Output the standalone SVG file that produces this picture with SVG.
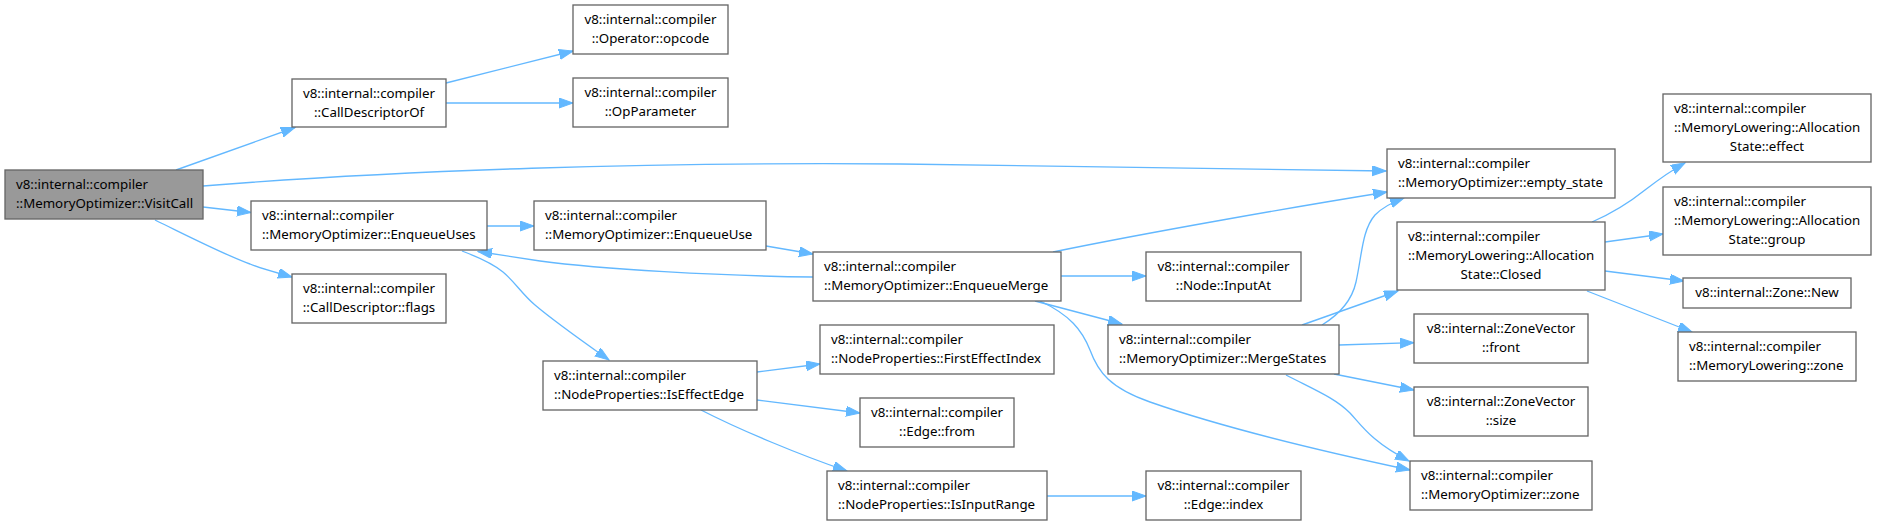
<svg xmlns="http://www.w3.org/2000/svg" width="1877" height="526" viewBox="0 0 1877 526">
<style>
.n rect{fill:#ffffff;stroke:#666666;stroke-width:1.33}
.n.root rect{fill:#999999}
.n text{font-family:"Noto Sans","Open Sans","DejaVu Sans",sans-serif;font-size:13.3px;fill:#000000}
.c{text-anchor:middle}
.e path{fill:none;stroke:#63b8ff;stroke-width:1.33;marker-end:url(#ah)}
</style>
<defs>
<marker id="ah" markerUnits="userSpaceOnUse" markerWidth="15" markerHeight="11" refX="14" refY="5" orient="auto">
<path d="M0,0 L14,5 L0,10 Z" fill="#63b8ff" stroke="#63b8ff" stroke-width="1"/>
</marker>
</defs>
<rect width="1877" height="526" fill="#ffffff"/>
<g id="edges" class="e">
<path d="M176,170 L295,127.5"/>
<path d="M203,186 C400,170 650,162 900,164 C1100,165.5 1300,169 1386,171"/>
<path d="M203,207 L251,212.5"/>
<path d="M155,220 C190,237 225,255 250,264 C262,269 278,273 292,277"/>
<path d="M446,83 L573,51"/>
<path d="M446,103 L573,103"/>
<path d="M487,226 L534,226"/>
<path d="M766,246 L813,254"/>
<path d="M813,277 C720,276 600,269 540,261 C515,257 495,254 478,251.5"/>
<path d="M462,251 C478,257 492,263 503,272 C515,282 522,294 535,305 C555,322 585,343 609,360"/>
<path d="M1053,252 C1150,232 1300,206 1387,192"/>
<path d="M1061,276 L1146,276"/>
<path d="M1035,301 L1122,324"/>
<path d="M1040,301 C1070,315 1082,330 1090,350 C1098,372 1110,388 1150,402 C1230,430 1330,453 1410,470"/>
<path d="M757,372 L820,364"/>
<path d="M757,400 L860,413"/>
<path d="M701,410 C740,430 800,455 847,471"/>
<path d="M1047,496 L1146,496"/>
<path d="M1322,325 C1340,314 1352,300 1356,282 C1362,255 1362,230 1375,215 C1383,207 1393,202 1404,198"/>
<path d="M1302,325 L1398,291"/>
<path d="M1339,345 L1414,342.7"/>
<path d="M1334,374 L1414,390"/>
<path d="M1286,375 C1315,390 1335,398 1350,413 C1362,426 1372,442 1409,461"/>
<path d="M1592,222 C1615,212 1630,202 1645,190 C1658,180 1672,170 1685,163"/>
<path d="M1605,242 L1663,234"/>
<path d="M1605,271 L1684,281"/>
<path d="M1587,291 L1692,332"/>
</g>
<g id="n1" class="n root"><rect x="5" y="170" width="198" height="49"/><text x="16" y="188.5">v8::internal::compiler</text><text x="16" y="207.5">::MemoryOptimizer::VisitCall</text></g>
<g id="n2" class="n"><rect x="292" y="79" width="154" height="48"/><text class="c" x="369" y="97.5">v8::internal::compiler</text><text class="c" x="369" y="116.5">::CallDescriptorOf</text></g>
<g id="n3" class="n"><rect x="573" y="5" width="155" height="49"/><text class="c" x="650.5" y="23.5">v8::internal::compiler</text><text class="c" x="650.5" y="42.5">::Operator::opcode</text></g>
<g id="n4" class="n"><rect x="573" y="78" width="155" height="49"/><text class="c" x="650.5" y="96.5">v8::internal::compiler</text><text class="c" x="650.5" y="115.5">::OpParameter</text></g>
<g id="n5" class="n"><rect x="251" y="201" width="236" height="49"/><text x="262" y="219.5">v8::internal::compiler</text><text x="262" y="238.5">::MemoryOptimizer::EnqueueUses</text></g>
<g id="n6" class="n"><rect x="534" y="201" width="232" height="49"/><text x="545" y="219.5">v8::internal::compiler</text><text x="545" y="238.5">::MemoryOptimizer::EnqueueUse</text></g>
<g id="n7" class="n"><rect x="292" y="274" width="154" height="49"/><text class="c" x="369" y="292.5">v8::internal::compiler</text><text class="c" x="369" y="311.5">::CallDescriptor::flags</text></g>
<g id="n8" class="n"><rect x="813" y="252" width="248" height="49"/><text x="824" y="270.5">v8::internal::compiler</text><text x="824" y="289.5">::MemoryOptimizer::EnqueueMerge</text></g>
<g id="n9" class="n"><rect x="1146" y="252" width="155" height="49"/><text class="c" x="1223.5" y="270.5">v8::internal::compiler</text><text class="c" x="1223.5" y="289.5">::Node::InputAt</text></g>
<g id="n10" class="n"><rect x="820" y="325" width="234" height="49"/><text x="831" y="343.5">v8::internal::compiler</text><text x="831" y="362.5">::NodeProperties::FirstEffectIndex</text></g>
<g id="n11" class="n"><rect x="543" y="361" width="214" height="49"/><text x="554" y="379.5">v8::internal::compiler</text><text x="554" y="398.5">::NodeProperties::IsEffectEdge</text></g>
<g id="n12" class="n"><rect x="860" y="398" width="154" height="49"/><text class="c" x="937" y="416.5">v8::internal::compiler</text><text class="c" x="937" y="435.5">::Edge::from</text></g>
<g id="n13" class="n"><rect x="827" y="471" width="220" height="49"/><text x="838" y="489.5">v8::internal::compiler</text><text x="838" y="508.5">::NodeProperties::IsInputRange</text></g>
<g id="n14" class="n"><rect x="1146" y="471" width="155" height="49"/><text class="c" x="1223.5" y="489.5">v8::internal::compiler</text><text class="c" x="1223.5" y="508.5">::Edge::index</text></g>
<g id="n15" class="n"><rect x="1108" y="325" width="231" height="49"/><text x="1119" y="343.5">v8::internal::compiler</text><text x="1119" y="362.5">::MemoryOptimizer::MergeStates</text></g>
<g id="n16" class="n"><rect x="1387" y="149" width="228" height="49"/><text x="1398" y="167.5">v8::internal::compiler</text><text x="1398" y="186.5">::MemoryOptimizer::empty_state</text></g>
<g id="n17" class="n"><rect x="1397" y="222" width="208" height="68"/><text x="1408" y="240.5">v8::internal::compiler</text><text x="1408" y="259.5">::MemoryLowering::Allocation</text><text class="c" x="1501" y="278.5">State::Closed</text></g>
<g id="n18" class="n"><rect x="1414" y="314" width="174" height="49"/><text class="c" x="1501" y="332.5">v8::internal::ZoneVector</text><text class="c" x="1501" y="351.5">::front</text></g>
<g id="n19" class="n"><rect x="1414" y="387" width="174" height="49"/><text class="c" x="1501" y="405.5">v8::internal::ZoneVector</text><text class="c" x="1501" y="424.5">::size</text></g>
<g id="n20" class="n"><rect x="1410" y="461" width="182" height="49"/><text x="1421" y="479.5">v8::internal::compiler</text><text x="1421" y="498.5">::MemoryOptimizer::zone</text></g>
<g id="n21" class="n"><rect x="1663" y="94" width="208" height="68"/><text x="1674" y="112.5">v8::internal::compiler</text><text x="1674" y="131.5">::MemoryLowering::Allocation</text><text class="c" x="1767" y="150.5">State::effect</text></g>
<g id="n22" class="n"><rect x="1663" y="187" width="208" height="68"/><text x="1674" y="205.5">v8::internal::compiler</text><text x="1674" y="224.5">::MemoryLowering::Allocation</text><text class="c" x="1767" y="243.5">State::group</text></g>
<g id="n23" class="n"><rect x="1683" y="278" width="168" height="30"/><text class="c" x="1767" y="296.5">v8::internal::Zone::New</text></g>
<g id="n24" class="n"><rect x="1678" y="332" width="178" height="49"/><text x="1689" y="350.5">v8::internal::compiler</text><text x="1689" y="369.5">::MemoryLowering::zone</text></g>
</svg>
